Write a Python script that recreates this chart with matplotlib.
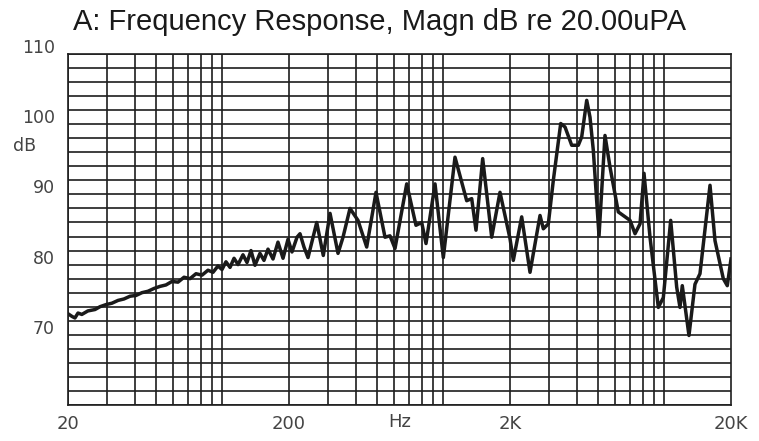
import numpy as np
from matplotlib import pyplot as plt
from matplotlib.transforms import ScaledTranslation, blended_transform_factory

# frequency response (Hz, dB re 20 uPa)
freq_hz = [
    20.0, 20.9, 21.5, 22.2, 23.1, 24.6, 26.5, 27.9, 29.7, 31.6,
    33.7, 35.8, 38.2, 40.6, 43.2, 46.0, 49.0, 52.2, 55.5, 59.1,
    62.9, 67.0, 71.3, 75.9, 80.8, 86.0, 90.6, 95.4, 99.5, 103.7,
    108.2, 112.8, 117.6, 123.8, 129.1, 134.6, 140.3, 147.8, 154.1, 160.7,
    169.3, 178.3, 187.9, 197.9, 206.3, 217.4, 224.3, 233.8, 243.8, 267.0,
    285.9, 306.7, 333.3, 351.1, 377.6, 410.4, 449.4, 495.1, 543.8, 572.9,
    603.5, 681.8, 750.9, 797.1, 833.6, 915.7, 998.3, 1127.6, 1273.8, 1341.8,
    1403.3, 1504.6, 1652.6, 1801.9, 2000.0, 2070.0, 2259.0, 2463.6, 2734.6, 2830.2,
    2981.6, 3141.0, 3392.0, 3548.0, 3804.0, 4075.0, 4222.0, 4448.0, 4603.0, 4764.0,
    5056.0, 5381.0, 5669.0, 6181.0, 6985.0, 7358.0, 7751.0, 8081.0, 8601.0, 9379.0,
    9881.0, 10669.0, 11357.0, 11754.0, 12039.0, 12908.0, 13741.0, 14476.0, 16071.0, 16930.0,
    18456.0, 19242.0, 20000.0,
]
level_db = [
    73.0, 72.6, 72.4, 73.1, 72.9, 73.4, 73.6, 74.0, 74.3, 74.5,
    74.9, 75.1, 75.5, 75.6, 76.0, 76.2, 76.6, 76.9, 77.1, 77.6,
    77.5, 78.2, 78.0, 78.7, 78.5, 79.2, 78.9, 79.8, 79.3, 80.4,
    79.6, 80.9, 80.0, 81.4, 80.3, 82.0, 79.9, 81.6, 80.6, 82.2,
    80.8, 83.2, 80.9, 83.6, 81.8, 83.9, 84.4, 82.5, 81.0, 86.0,
    81.3, 87.3, 81.6, 83.9, 88.0, 86.3, 82.5, 90.3, 83.9, 84.1,
    82.3, 91.5, 85.6, 86.0, 83.0, 91.5, 81.0, 95.3, 89.1, 89.4,
    84.9, 95.1, 83.9, 90.3, 83.7, 80.6, 86.8, 78.9, 87.0, 85.1,
    85.8, 92.0, 100.1, 99.6, 97.0, 97.0, 98.2, 103.4, 101.0, 96.3,
    84.1, 98.4, 93.9, 87.5, 86.3, 84.4, 85.8, 93.0, 83.9, 73.9,
    75.3, 86.3, 76.8, 73.9, 77.0, 69.9, 77.2, 78.7, 91.3, 83.4,
    78.0, 77.0, 80.8,
]

x_ticks = [20, 200, 2000, 20000]
x_labels = ["20", "200", "2K", "20K"]
y_ticks = [70, 80, 90, 100, 110]
x_grid = [m * 10 ** k for k in (1, 2, 3) for m in range(2, 11)
          if 20 <= m * 10 ** k <= 20000]
y_grid = list(range(60, 111, 2))

title = "A: Frequency Response, Magn dB re 20.00uPA"

fig = plt.figure(figsize=(7.59, 4.41), dpi=100)
ax = fig.add_axes([68 / 759, 36 / 441, 663 / 759, 351 / 441])

ax.set_xscale("log")
ax.set_xlim(20, 20000)
ax.set_ylim(60, 110)

for gx in x_grid:
    ax.axvline(gx, color="#1e1e1e", lw=1.2, zorder=1)
for gy in y_grid:
    ax.axhline(gy, color="#1e1e1e", lw=1.2, zorder=1)

ax.plot(freq_hz, level_db, color="#1a1a1a", lw=2.5, zorder=3,
        solid_joinstyle="round")

for s in ax.spines.values():
    s.set_color("#1e1e1e")
    s.set_linewidth(1.2)

ax.set_xticks(x_ticks)
ax.set_xticklabels(x_labels)
ax.xaxis.set_minor_locator(plt.NullLocator())
ax.set_yticks([])
ax.tick_params(axis="x", length=0, pad=7, labelsize=13, labelcolor="#444444")

# y labels sit a little above their grid lines
ytrans = blended_transform_factory(ax.transAxes, ax.transData) + \
    ScaledTranslation(0, 6 / 100, fig.dpi_scale_trans)
for yv in y_ticks:
    ax.text(-0.02, yv, str(yv), transform=ytrans, ha="right", va="center",
            fontsize=12.5, color="#444444")
ax.text(-0.065, 96, "dB", transform=ytrans, ha="center", va="center",
        fontsize=12.5, color="#444444")

ax.text(np.sqrt(200 * 2000), 60, "Hz", ha="center", va="top",
        fontsize=13, color="#444444",
        transform=ax.transData + ScaledTranslation(0, -8 / 100, fig.dpi_scale_trans))

fig.text(0.5, 0.951, title, ha="center", va="center", fontsize=21,
         family="Liberation Sans", color="#1a1a1a")

plt.savefig("out.png", dpi=100)
plt.close()
